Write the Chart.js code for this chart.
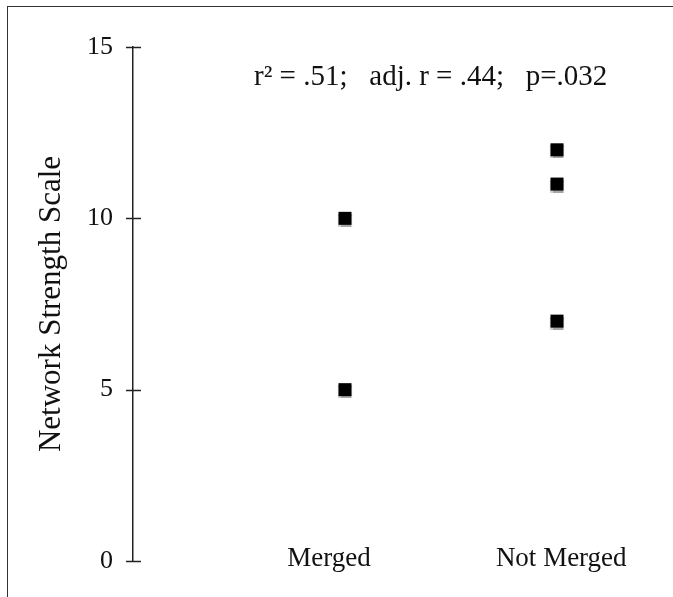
<!DOCTYPE html>
<html>
<head>
<meta charset="utf-8">
<script src="https://cdn.jsdelivr.net/npm/chart.js@4.4.1/dist/chart.umd.min.js"></script>
<style>
  html, body { margin: 0; padding: 0; background: #fff; }
  #wrap { position: relative; width: 673px; height: 597px; overflow: hidden; }
  #frame { position: absolute; left: 7px; top: 6px; width: 700px; height: 700px;
           border-left: 1.5px solid #333; border-top: 1.5px solid #333; pointer-events: none; }
  canvas { position: absolute; left: 0; top: 0; }
</style>
</head>
<body>
<div id="wrap">
  <canvas id="c" width="673" height="597"></canvas>
  <div id="frame"></div>
</div>
<script>
// ---- data ----
const categories = ["Merged", "Not Merged"];
const mergedValues = [10, 5];
const notMergedValues = [12, 11, 7];
const yTickValues = [0, 5, 10, 15];
const yAxisTitle = "Network Strength Scale";
const statsText = "r\u00B2 = .51;   adj. r = .44;   p=.032";

const FONT = "'Liberation Serif', 'Times New Roman', serif";
// label anchor positions on the x scale (category slots are 1 and 2)
const labelAnchors = [0.925, 2.02];

const points = [
  ...mergedValues.map(v => ({ x: 1, y: v })),
  ...notMergedValues.map(v => ({ x: 2, y: v }))
];

const crossTicks = {
  id: 'crossTicks',
  afterDraw(chart) {
    const ys = chart.scales.y;
    const ctx = chart.ctx;
    const x0 = chart.chartArea.left;
    ctx.save();
    ctx.strokeStyle = '#222';
    ctx.lineWidth = 1.5;
    yTickValues.forEach(v => {
      const py = Math.round(ys.getPixelForValue(v)) + 0.5;
      ctx.beginPath();
      ctx.moveTo(x0 - 7, py);
      ctx.lineTo(x0 + 8, py);
      ctx.stroke();
    });
    // stats annotation
    ctx.fillStyle = '#111';
    ctx.font = "29px " + FONT;
    ctx.textAlign = 'left';
    ctx.textBaseline = 'alphabetic';
    ctx.fillText(statsText, 254, 85);
    ctx.restore();
  }
};

const shadowPlugin = {
  id: 'shadowPts',
  beforeDatasetsDraw(chart) {
    const ctx = chart.ctx;
    ctx.save();
    ctx.shadowColor = 'rgba(0,0,0,0.35)';
    ctx.shadowOffsetY = 2;
    ctx.shadowBlur = 1;
  },
  afterDatasetsDraw(chart) {
    chart.ctx.restore();
  }
};

new Chart(document.getElementById('c'), {
  type: 'scatter',
  data: {
    datasets: [{
      data: points,
      pointStyle: 'rect',
      pointRadius: 9.2,
      pointHoverRadius: 9.2,
      backgroundColor: '#000',
      borderColor: '#000',
      borderWidth: 0
    }]
  },
  plugins: [shadowPlugin, crossTicks],
  options: {
    responsive: false,
    animation: false,
    events: [],
    layout: { padding: { top: 47, right: 10, bottom: 0, left: 0 } },
    plugins: { legend: { display: false }, tooltip: { enabled: false } },
    scales: {
      x: {
        type: 'linear',
        min: 0,
        max: 2.5,
        afterBuildTicks: axis => { axis.ticks = labelAnchors.map(v => ({ value: v })); },
        afterFit: axis => { axis.height = 36; },
        grid: { display: false, drawTicks: false },
        border: { display: false },
        ticks: {
          callback: (v, i) => categories[i] || '',
          font: { family: FONT, size: 27 },
          color: '#111',
          padding: -14,
          mirror: true,
          maxRotation: 0,
          autoSkip: false
        }
      },
      y: {
        min: 0,
        max: 15,
        afterBuildTicks: axis => { axis.ticks = yTickValues.map(v => ({ value: v })); },
        afterFit: axis => { axis.width = 133; },
        grid: { display: false, drawTicks: false },
        border: { display: true, color: '#222', width: 1.5 },
        ticks: {
          font: { family: FONT, size: 26 },
          color: '#111',
          padding: 20
        },
        title: {
          display: true,
          text: yAxisTitle,
          font: { family: FONT, size: 31 },
          color: '#111',
          padding: { top: 33, bottom: 0 }
        }
      }
    }
  }
});
</script>
</body>
</html>
